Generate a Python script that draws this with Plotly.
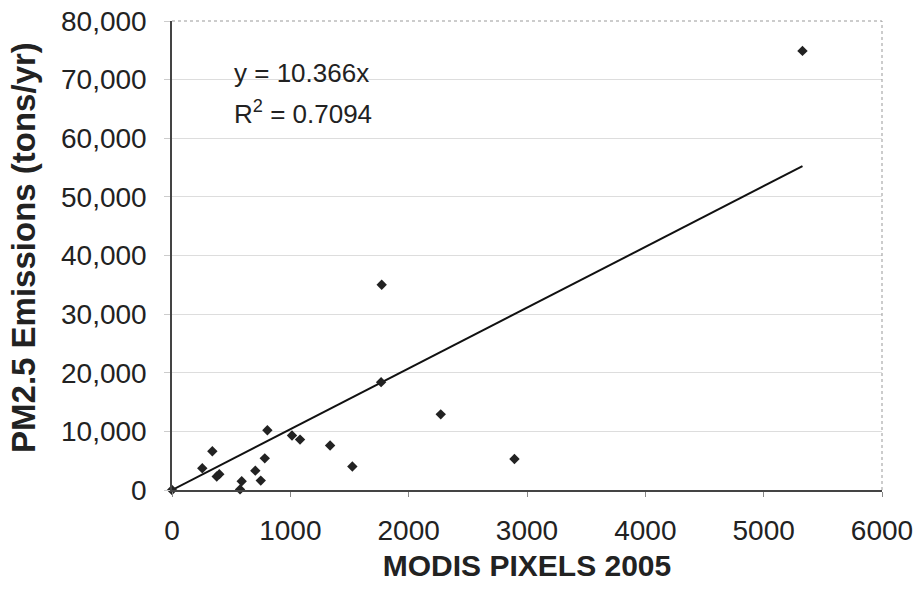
import plotly.graph_objects as go

# Data
modis_pixels = [0, 256, 341, 378, 400, 575, 589, 704, 750, 784, 806, 1014, 1082,
                1336, 1524, 1767, 1772, 2271, 2894, 5328]
pm25_emissions = [0, 3700, 6600, 2300, 2700, 100, 1500, 3300, 1600, 5400, 10200,
                  9300, 8600, 7600, 4000, 18400, 35000, 12900, 5300, 74900]
slope = 10.366
r_squared = 0.7094
x_ticks = [0, 1000, 2000, 3000, 4000, 5000, 6000]
y_ticks = [0, 10000, 20000, 30000, 40000, 50000, 60000, 70000, 80000]

fit_x = [0, max(modis_pixels)]
fit_y = [slope * v for v in fit_x]

font = "Liberation Sans, Arial, sans-serif"
txt = "#222222"

fig = go.Figure()
fig.add_trace(go.Scatter(x=fit_x, y=fit_y, mode="lines",
                         line=dict(color="#111111", width=2), showlegend=False))
fig.add_trace(go.Scatter(x=modis_pixels, y=pm25_emissions, mode="markers",
                         marker=dict(symbol="diamond", size=8, color="#222222"),
                         showlegend=False, cliponaxis=False))

fig.add_annotation(x=0.084, y=0.889, xref="paper", yref="paper",
                   text=f"y = {slope}x", showarrow=False,
                   xanchor="left", yanchor="middle",
                   font=dict(family=font, size=26, color=txt))
fig.add_annotation(x=0.084, y=0.804, xref="paper", yref="paper",
                   text=f"R<sup>2</sup> = {r_squared}", showarrow=False,
                   xanchor="left", yanchor="middle",
                   font=dict(family=font, size=26, color=txt))
# y-axis title
fig.add_annotation(x=-0.21, y=0.518, xref="paper", yref="paper",
                   text="<b>PM2.5 Emissions (tons/yr)</b>", showarrow=False,
                   textangle=-90, xanchor="center", yanchor="middle",
                   font=dict(family=font, size=33, color=txt))

fig.update_layout(
    width=917, height=600,
    margin=dict(l=172, r=35, t=21, b=110),
    paper_bgcolor="white", plot_bgcolor="white",
    font=dict(family=font, size=28, color=txt),
    xaxis=dict(range=[0, 6000], tickvals=x_ticks, showgrid=False, automargin=False,
               showline=True, linecolor="#444444", linewidth=1.5, mirror=False,
               ticks="outside", ticklen=5, tickcolor="#888888",
               zeroline=False, ticklabelstandoff=10,
               tickfont=dict(family=font, size=28, color=txt),
               title=dict(text="<b>MODIS PIXELS 2005</b>", standoff=10,
                          font=dict(family=font, size=30, color=txt))),
    yaxis=dict(range=[0, 80000], tickvals=y_ticks, tickformat=",d", automargin=False,
               showgrid=True, gridcolor="#dddddd", gridwidth=1,
               showline=True, linecolor="#444444", linewidth=1.5,
               ticks="outside", ticklen=6, tickcolor="#cccccc",
               zeroline=False, ticklabelstandoff=12,
               tickfont=dict(family=font, size=28, color=txt)),
)

# dotted border on top and right of the plot area
fig.add_shape(type="line", xref="paper", yref="paper", x0=0, x1=1, y0=1, y1=1,
              line=dict(color="#999999", width=1, dash="dot"))
fig.add_shape(type="line", xref="paper", yref="paper", x0=1, x1=1, y0=0, y1=1,
              line=dict(color="#999999", width=1, dash="dot"))

fig.write_html("out.html")
